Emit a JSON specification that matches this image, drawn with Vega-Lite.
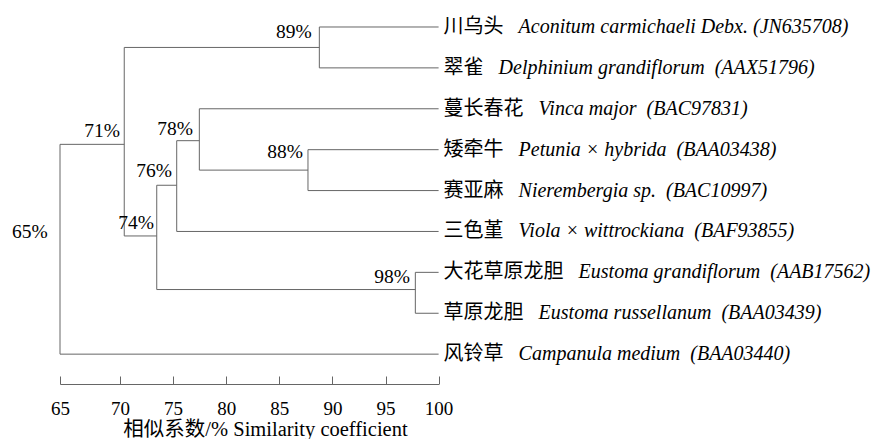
{
  "$schema": "https://vega.github.io/schema/vega-lite/v6.json",
  "autosize": {"type": "none"},
  "padding": {"left": 60, "top": 0, "right": 448, "bottom": 55},
  "width": 379,
  "height": 384,
  "background": "white",
  "config": {"view": {"stroke": null}},
  "datasets": {
    "branches": [
      {"sim": 88.77, "sim2": 100, "ord": 0, "ord2": 0},
      {"sim": 88.77, "sim2": 100, "ord": 1, "ord2": 1},
      {"sim": 77.47, "sim2": 100, "ord": 2, "ord2": 2},
      {"sim": 87.7, "sim2": 100, "ord": 3, "ord2": 3},
      {"sim": 87.7, "sim2": 100, "ord": 4, "ord2": 4},
      {"sim": 75.34, "sim2": 100, "ord": 5, "ord2": 5},
      {"sim": 97.81, "sim2": 100, "ord": 6, "ord2": 6},
      {"sim": 97.81, "sim2": 100, "ord": 7, "ord2": 7},
      {"sim": 65, "sim2": 100, "ord": 8, "ord2": 8},
      {"sim": 88.77, "sim2": 88.77, "ord": 0, "ord2": 1},
      {"sim": 87.7, "sim2": 87.7, "ord": 3, "ord2": 4},
      {"sim": 77.47, "sim2": 77.47, "ord": 2, "ord2": 3.5},
      {"sim": 75.34, "sim2": 75.34, "ord": 2.78, "ord2": 5},
      {"sim": 73.46, "sim2": 73.46, "ord": 3.87, "ord2": 6.42},
      {"sim": 97.81, "sim2": 97.81, "ord": 6, "ord2": 7},
      {"sim": 70.4, "sim2": 70.4, "ord": 0.5, "ord2": 5.11},
      {"sim": 65, "sim2": 65, "ord": 2.87, "ord2": 8},
      {"sim": 70.4, "sim2": 88.77, "ord": 0.5, "ord2": 0.5},
      {"sim": 77.47, "sim2": 87.7, "ord": 3.5, "ord2": 3.5},
      {"sim": 75.34, "sim2": 77.47, "ord": 2.78, "ord2": 2.78},
      {"sim": 73.46, "sim2": 75.34, "ord": 3.87, "ord2": 3.87},
      {"sim": 73.46, "sim2": 97.81, "ord": 6.42, "ord2": 6.42},
      {"sim": 70.4, "sim2": 73.46, "ord": 5.11, "ord2": 5.11},
      {"sim": 65, "sim2": 70.4, "ord": 2.87, "ord2": 2.87}
    ],
    "nodes": [
      {"sim": 88.52, "ord": 0.44, "label": "89%"},
      {"sim": 87.7, "ord": 3.38, "label": "88%"},
      {"sim": 77.34, "ord": 2.81, "label": "78%"},
      {"sim": 75.37, "ord": 3.84, "label": "76%"},
      {"sim": 73.67, "ord": 5.11, "label": "74%"},
      {"sim": 97.78, "ord": 6.43, "label": "98%"},
      {"sim": 70.47, "ord": 2.86, "label": "71%"},
      {"sim": 64.4, "ord": 5.33, "label": "65%"}
    ],
    "leaves": [
      {"sim": 100, "ord": 0, "cn": "川乌头", "sci": "Aconitum carmichaeli Debx. (JN635708)"},
      {"sim": 100, "ord": 1, "cn": "翠雀", "sci": "Delphinium grandiflorum\u00a0\u00a0(AAX51796)"},
      {"sim": 100, "ord": 2, "cn": "蔓长春花", "sci": "Vinca major\u00a0\u00a0(BAC97831)"},
      {"sim": 100, "ord": 3, "cn": "矮牵牛", "sci": "Petunia × hybrida\u00a0\u00a0(BAA03438)"},
      {"sim": 100, "ord": 4, "cn": "赛亚麻", "sci": "Nierembergia sp.\u00a0\u00a0(BAC10997)"},
      {"sim": 100, "ord": 5, "cn": "三色堇", "sci": "Viola × wittrockiana\u00a0\u00a0(BAF93855)"},
      {"sim": 100, "ord": 6, "cn": "大花草原龙胆", "sci": "Eustoma grandiflorum\u00a0\u00a0(AAB17562)"},
      {"sim": 100, "ord": 7, "cn": "草原龙胆", "sci": "Eustoma russellanum\u00a0\u00a0(BAA03439)"},
      {"sim": 100, "ord": 8, "cn": "风铃草", "sci": "Campanula medium\u00a0\u00a0(BAA03440)"}
    ]
  },
  "layer": [
    {
      "data": {"name": "branches"},
      "mark": {"type": "rule", "stroke": "#666666", "strokeWidth": 1},
      "encoding": {
        "x": {
          "field": "sim", "type": "quantitative",
          "scale": {"domain": [65, 70, 100], "range": [0, 60, 378.6], "nice": false, "zero": false},
          "axis": {
            "title": "相似系数/%  Similarity coefficient",
            "values": [65, 70, 75, 80, 85, 90, 95, 100],
            "grid": false,
            "domainColor": "#666666",
            "tickColor": "#666666",
            "tickSize": -8,
            "labelPadding": 23,
            "labelFlush": false,
            "labelOverlap": false,
            "labelFont": "Liberation Serif",
            "labelFontSize": 19,
            "labelColor": "black",
            "titleFont": "Liberation Serif, Noto Sans CJK SC",
            "titleFontSize": 20.5,
            "titleFontWeight": "normal",
            "titleColor": "black",
            "titleAlign": "center",
            "titleBaseline": "alphabetic",
            "titleX": 205,
            "titleY": 51
          }
        },
        "x2": {"field": "sim2"},
        "y": {
          "field": "ord", "type": "quantitative",
          "scale": {"domain": [-0.66, 8.73], "reverse": true, "nice": false, "zero": false},
          "axis": null
        },
        "y2": {"field": "ord2"}
      }
    },
    {
      "data": {"name": "nodes"},
      "mark": {"type": "text", "align": "right", "baseline": "alphabetic", "dx": -5, "dy": -7, "font": "Liberation Serif", "fontSize": 19.5, "color": "black"},
      "encoding": {
        "x": {"field": "sim", "type": "quantitative"},
        "y": {"field": "ord", "type": "quantitative"},
        "text": {"field": "label"}
      }
    },
    {
      "data": {"name": "leaves"},
      "mark": {"type": "text", "align": "left", "baseline": "middle", "dx": 5, "font": "Noto Sans CJK SC", "fontSize": 20, "color": "black"},
      "encoding": {
        "x": {"field": "sim", "type": "quantitative"},
        "y": {"field": "ord", "type": "quantitative"},
        "text": {"field": "cn"}
      }
    },
    {
      "data": {"name": "leaves"},
      "transform": [
        {"calculate": "'\u200b' + pad('', round((20*length(datum.cn)+15)/5), '\u00a0') + datum.sci", "as": "lat"}
      ],
      "mark": {"type": "text", "align": "left", "baseline": "middle", "dx": 5, "font": "Liberation Serif", "fontStyle": "italic", "fontSize": 20, "color": "black"},
      "encoding": {
        "x": {"field": "sim", "type": "quantitative"},
        "y": {"field": "ord", "type": "quantitative"},
        "text": {"field": "lat"}
      }
    }
  ]
}
